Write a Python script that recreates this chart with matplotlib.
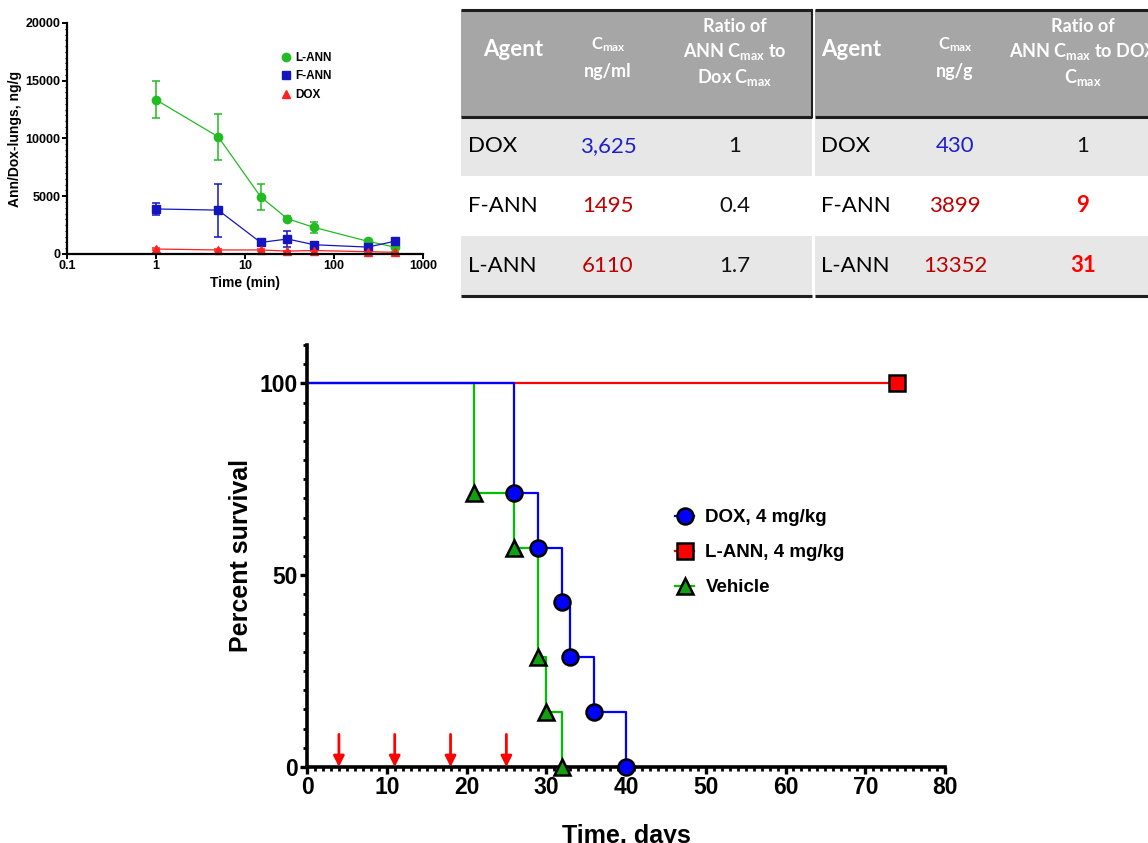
"""Lung PK of annamycin vs doxorubicin, Cmax tables and survival curve."""
import matplotlib
matplotlib.use("Agg")
import matplotlib.pyplot as plt
from matplotlib.patches import Rectangle
from matplotlib.ticker import MultipleLocator, FixedLocator, NullLocator
from matplotlib.lines import Line2D

plt.rcParams["font.family"] = ["Liberation Sans", "DejaVu Sans"]
plt.rcParams["font.weight"] = "bold"
plt.rcParams["mathtext.fontset"] = "custom"
plt.rcParams["mathtext.rm"] = "Lato:bold"
plt.rcParams["mathtext.default"] = "rm"

# lung concentrations (ng/g) vs time (min)
pk_time = [1, 5, 15, 30, 60, 240, 480]
lann_mean = [13350, 10150, 4950, 3050, 2300, 1100, 600]
lann_err = [1600, 2000, 1120, 200, 500, 150, 100]
fann_mean = [3900, 3800, 1000, 1300, 800, 600, 1100]
fann_err = [500, 2300, 150, 700, 200, 100, 150]
dox_mean = [430, 350, 350, 250, 300, 200, 150]
dox_err = [60, 50, 50, 40, 40, 30, 30]

# Cmax tables
agents = ["DOX", "F-ANN", "L-ANN"]
plasma_cmax = ["3,625", "1495", "6110"]
plasma_ratio = ["1", "0.4", "1.7"]
lung_cmax = ["430", "3899", "13352"]
lung_ratio = ["1", "9", "31"]

# survival (Kaplan-Meier steps), days / percent
dox_days = [0, 26, 29, 32, 33, 36, 40]
dox_surv = [100, 71.4, 57.1, 42.9, 28.6, 14.3, 0]
veh_days = [0, 21, 26, 29, 30, 32]
veh_surv = [100, 71.4, 57.1, 28.6, 14.3, 0]
lann_days = [0, 74]
lann_surv = [100, 100]
dose_days = [4, 11, 18, 25]

W, H = 1148, 843
fig = plt.figure(figsize=(W / 100, H / 100), dpi=100)


def px_axes(l, t, r, b):
    return fig.add_axes([l / W, 1 - b / H, (r - l) / W, (b - t) / H])


# ---- top-left PK plot
ax1 = px_axes(67, 23, 423, 254)
pk_sets = [
    ("L-ANN", lann_mean, lann_err, "#22bb22", "o"),
    ("F-ANN", fann_mean, fann_err, "#1515c0", "s"),
    ("DOX", dox_mean, dox_err, "#ff2020", "^"),
]
for lab, m, e, c, mk in pk_sets:
    ax1.errorbar(pk_time, m, yerr=e, color=c, marker=mk, ms=6, lw=0.9,
                 elinewidth=1.1, capsize=3, capthick=1.1, label=lab, clip_on=False)
ax1.set_xscale("log")
ax1.set_xlim(0.1, 1000)
ax1.set_ylim(0, 20000)
ax1.set_xticks([0.1, 1, 10, 100, 1000])
ax1.set_xticklabels(["0.1", "1", "10", "100", "1000"])
ax1.xaxis.set_minor_locator(NullLocator())
ax1.yaxis.set_major_locator(MultipleLocator(5000))
ax1.yaxis.set_minor_locator(MultipleLocator(500))
for s in ["top", "right"]:
    ax1.spines[s].set_visible(False)
for s in ["left", "bottom"]:
    ax1.spines[s].set_linewidth(1.6)
ax1.tick_params(which="major", length=3.5, width=1.4, labelsize=9, pad=1)
ax1.tick_params(which="minor", length=1.5, width=0.9)
ax1.set_xlabel("Time (min)", fontsize=10, fontweight="bold", labelpad=3)
ax1.set_ylabel("Ann/Dox-lungs, ng/g", fontsize=10, fontweight="bold", labelpad=3)
h1 = [Line2D([], [], color=c, marker=mk, ls="none", ms=6) for _, _, _, c, mk in pk_sets]
ax1.legend(h1, [p[0] for p in pk_sets], loc="upper left", bbox_to_anchor=(0.585, 0.9),
           frameon=False, fontsize=8.5, handlelength=0.8, handletextpad=0.4,
           labelspacing=0.55, borderpad=0)

# ---- tables (drawn in pixel space)
axt = fig.add_axes([0, 0, 1, 1])
axt.set_xlim(0, W)
axt.set_ylim(H, 0)
axt.axis("off")
axt.patch.set_visible(False)

head_gray = "#a6a6a6"
row_gray = "#e7e7e7"
row_y = [117, 176, 236, 296]
tfont = ["Lato", "DejaVu Sans"]


def draw_table(x0, x1, head_x, head_ha, agent_x, cmax_x, ratio_x, unit, ratio_lines,
               cmax_vals, ratio_vals, ratio_bold):
    axt.add_patch(Rectangle((x0, 10), x1 - x0, 107, color=head_gray, lw=0))
    for i in range(3):
        col = row_gray if i != 1 else "white"
        axt.add_patch(Rectangle((x0, row_y[i]), x1 - x0, row_y[i + 1] - row_y[i], color=col, lw=0))
    for yy in [10, 117, 296]:
        axt.plot([x0, x1], [yy, yy], color="#1e1e1e", lw=2.2, solid_capstyle="butt")
    axt.text(head_x, 50, "Agent", color="white", fontsize=16, fontweight="bold",
             family=tfont, ha=head_ha, va="center")
    axt.text(cmax_x, 45, r"C$_{\rm max}$", color="white", fontsize=12, fontweight="bold",
             family=tfont, ha="center", va="center")
    axt.text(cmax_x, 71, unit, color="white", fontsize=13, fontweight="bold",
             family=tfont, ha="center", va="center")
    for k, ln in enumerate(ratio_lines):
        axt.text(ratio_x, 27 + 25 * k, ln, color="white", fontsize=13, fontweight="bold",
                 family=tfont, ha="center", va="center")
    for i in range(3):
        yc = (row_y[i] + row_y[i + 1]) / 2
        axt.text(agent_x, yc, agents[i], fontsize=16, family=tfont, fontweight="normal",
                 ha="left", va="center")
        ccol = "#2020c8" if i == 0 else "#c00000"
        axt.text(cmax_x, yc, cmax_vals[i], fontsize=16, family=tfont, fontweight="normal",
                 color=ccol, ha="center", va="center")
        if ratio_bold and i > 0:
            axt.text(ratio_x, yc, ratio_vals[i], fontsize=16, family=tfont,
                     fontweight="bold", color="#ff0000", ha="center", va="center")
        else:
            axt.text(ratio_x, yc, ratio_vals[i], fontsize=16, family=tfont,
                     fontweight="normal", color="#111111", ha="center", va="center")


draw_table(461, 812, 513, "center", 468, 608, 735, "ng/ml",
           ["Ratio of", r"ANN C$_{\rm max}$ to", r"Dox C$_{\rm max}$"],
           plasma_cmax, plasma_ratio, False)
draw_table(815, 1148, 821, "left", 821, 955, 1083, "ng/g",
           ["Ratio of", r"ANN C$_{\rm max}$ to DOX", r"C$_{\rm max}$"],
           lung_cmax, lung_ratio, True)
axt.plot([812, 812], [10, 117], color="#1e1e1e", lw=1.5)

# ---- survival plot
ax2 = px_axes(307, 345, 945, 767)
surv_sets = [
    ("L-ANN, 4 mg/kg", lann_days, lann_surv, "#ff0000", "#ff0000", "s"),
    ("Vehicle", veh_days, veh_surv, "#00c000", "#10a010", "^"),
    ("DOX, 4 mg/kg", dox_days, dox_surv, "#0000ff", "#0000ff", "o"),
]
for lab, d, s, lc, fc, mk in surv_sets:
    ax2.step(d, s, where="post", color=lc, lw=1.6, clip_on=False, zorder=2)
    ax2.plot(d[1:], s[1:], ls="none", marker=mk, ms=11.5, mfc=fc, mec="black",
             mew=1.8, clip_on=False, zorder=4)
for dd in dose_days:
    ax2.annotate("", xy=(dd, 0), xytext=(dd, 8.5),
                 arrowprops=dict(arrowstyle="-|>", color="#ff0000", lw=2,
                                 mutation_scale=16, shrinkA=0, shrinkB=0), zorder=3)
ax2.set_xlim(0, 80)
ax2.set_ylim(0, 110)
ax2.xaxis.set_major_locator(MultipleLocator(10))
ax2.xaxis.set_minor_locator(MultipleLocator(1))
ax2.yaxis.set_major_locator(FixedLocator([0, 50, 100]))
ax2.yaxis.set_minor_locator(MultipleLocator(5))
for s in ["top", "right"]:
    ax2.spines[s].set_visible(False)
for s in ["left", "bottom"]:
    ax2.spines[s].set_linewidth(2.6)
ax2.tick_params(which="major", length=5, width=2.4, labelsize=16.5, pad=1.5)
ax2.tick_params(which="minor", length=3, width=2.0)
ax2.set_xlabel("Time, days", fontsize=18, fontweight="bold", labelpad=18)
ax2.set_ylabel("Percent survival", fontsize=18, fontweight="bold", labelpad=5)

order = [2, 0, 1]
h2 = [Line2D([], [], color=surv_sets[i][3], marker=surv_sets[i][5], ms=11.5,
             mfc=surv_sets[i][4], mec="black", mew=1.8, lw=1.6) for i in order]
ax2.legend(h2, [surv_sets[i][0] for i in order], loc="upper left",
           bbox_to_anchor=(666 / W, 1 - 500 / H), bbox_transform=fig.transFigure,
           frameon=False, fontsize=13.5, handlelength=1.0, handletextpad=0.6,
           labelspacing=0.95, borderpad=0)

fig.savefig("out.png", dpi=100)
